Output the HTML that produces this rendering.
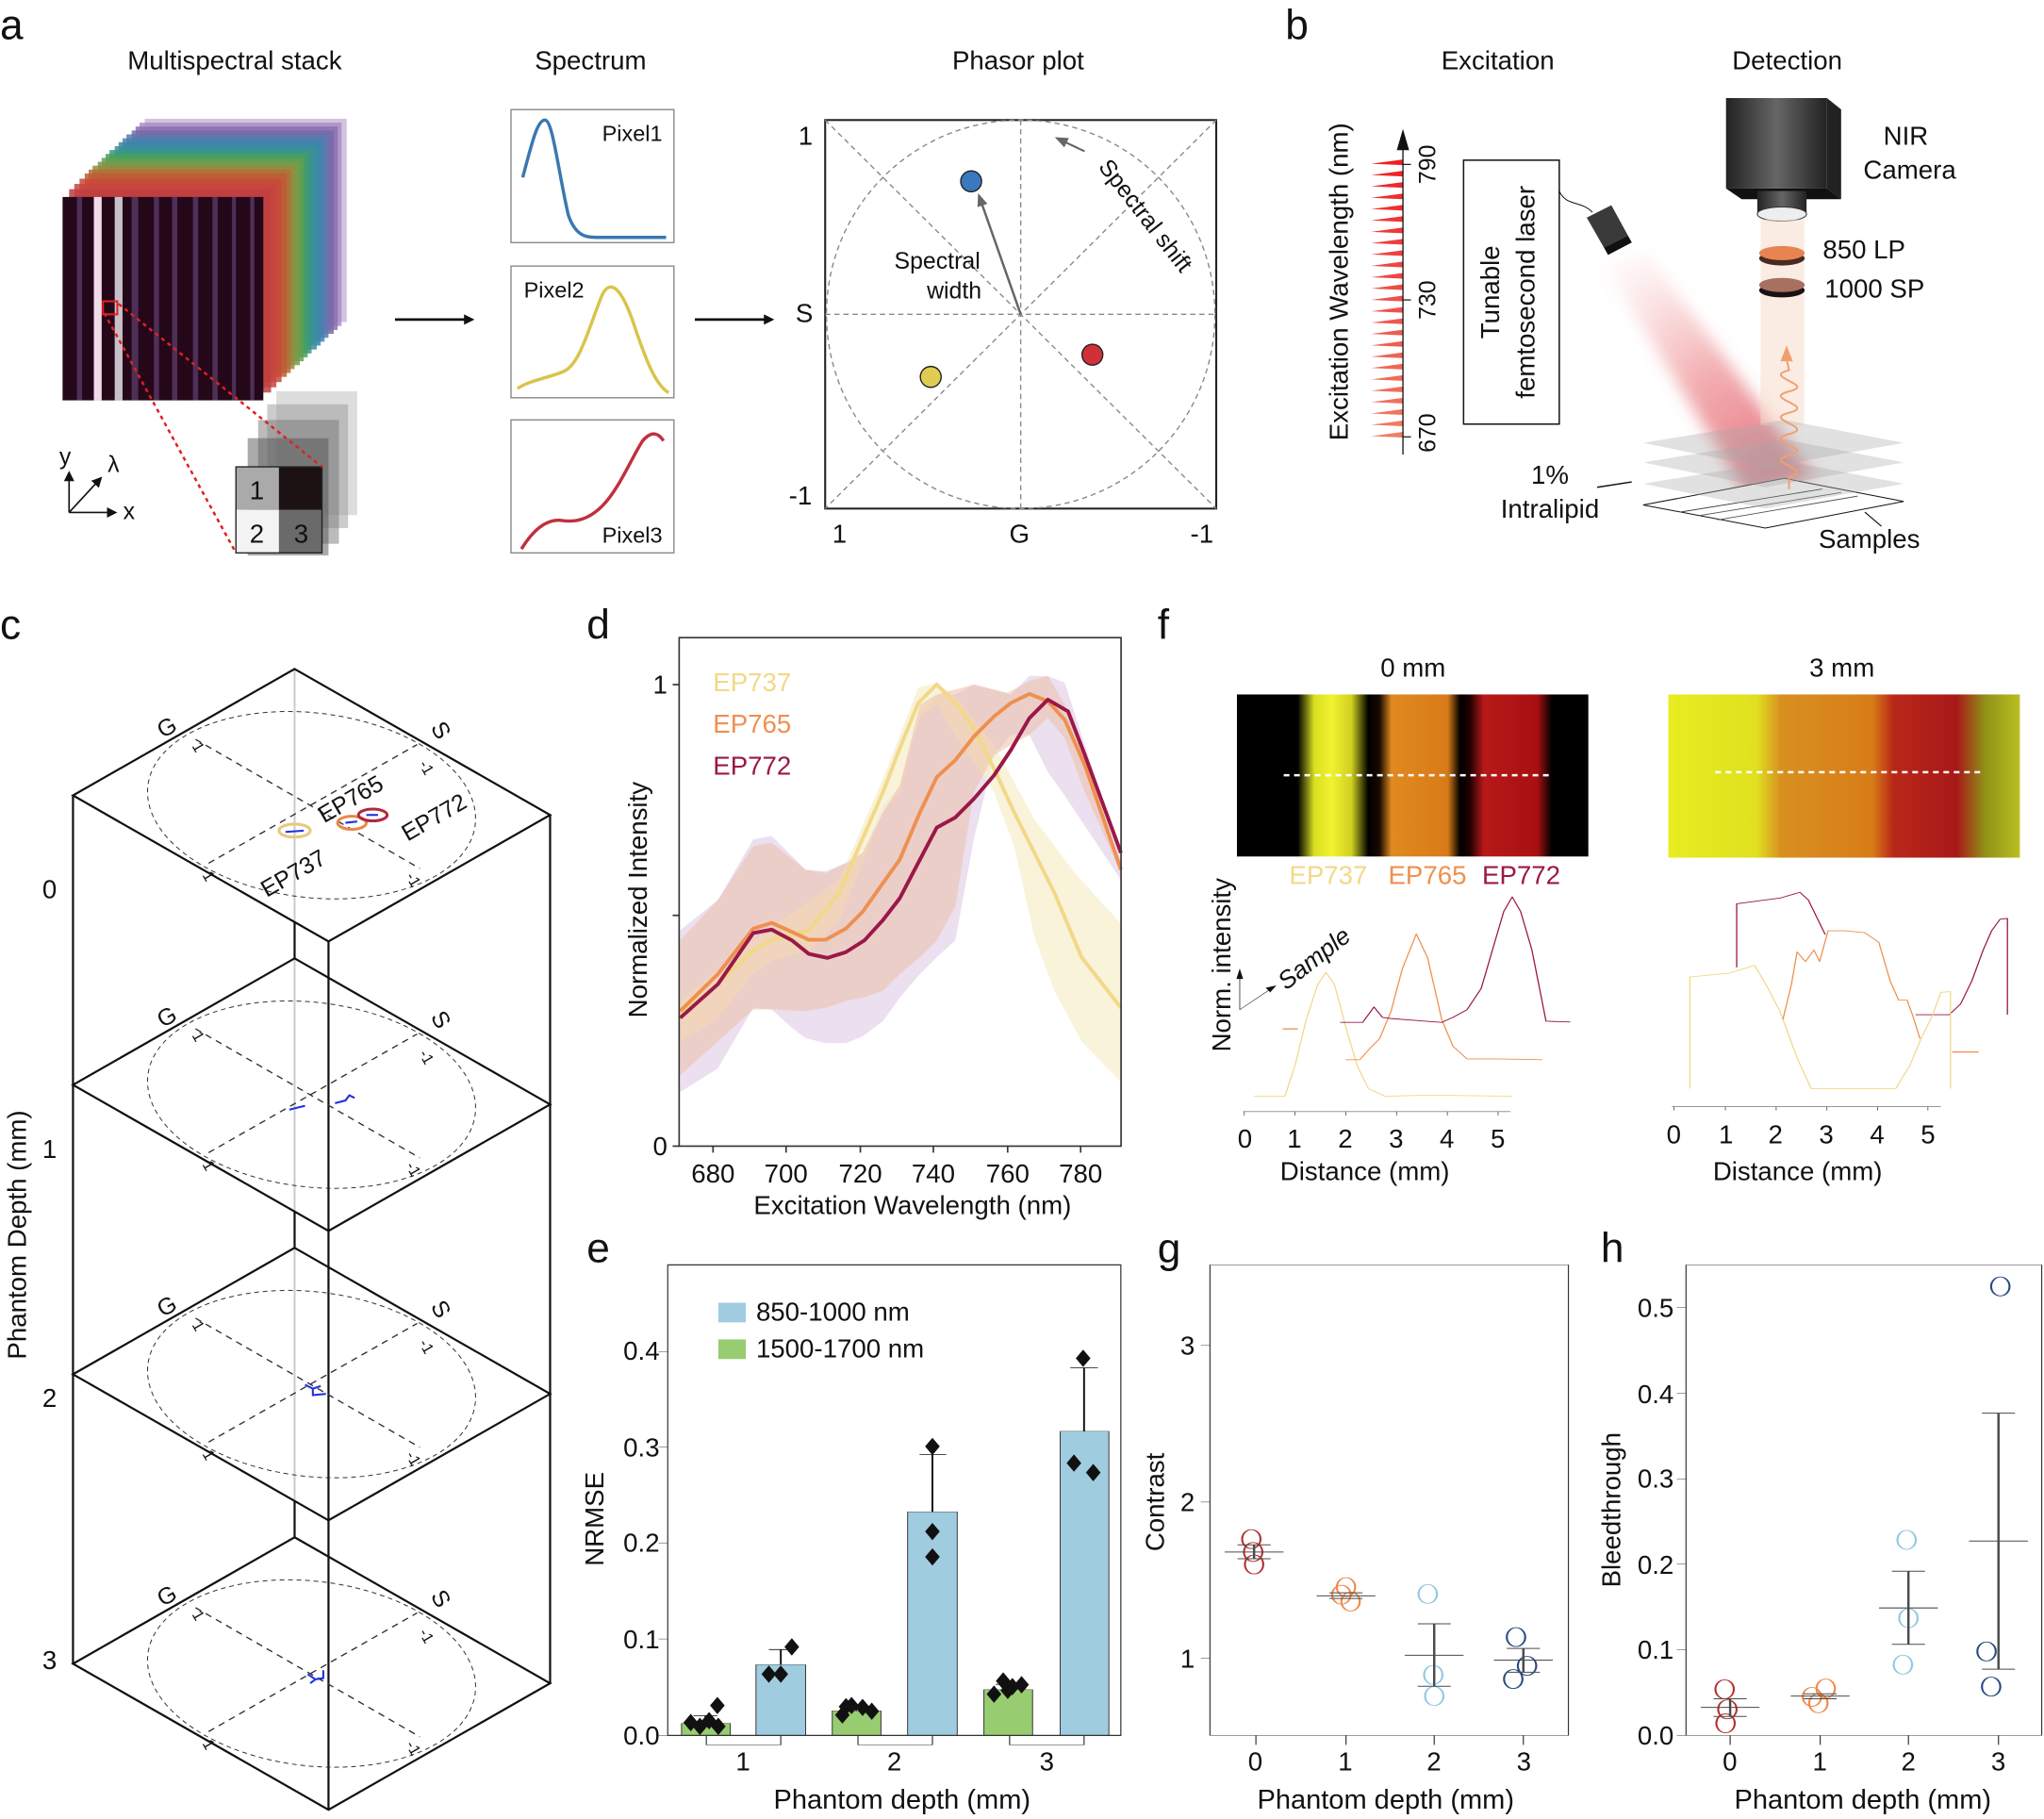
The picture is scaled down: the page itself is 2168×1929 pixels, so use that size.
<!DOCTYPE html>
<html><head><meta charset="utf-8">
<style>
html,body{margin:0;padding:0;background:#fff;}
svg{display:block;}
text{font-family:"Liberation Sans",Arial,sans-serif;fill:#111;}
.n{font-family:"Liberation Sans Narrow","Liberation Sans",sans-serif;}
.ns{vector-effect:non-scaling-stroke;}
</style></head>
<body>
<svg width="2168" height="1929" viewBox="0 0 1568 1395" xmlns="http://www.w3.org/2000/svg">
<defs>
<marker id="ah" markerWidth="8" markerHeight="8" refX="6" refY="4" orient="auto" markerUnits="userSpaceOnUse"><path d="M0,0 L8,4 L0,8 z" fill="#111"/></marker>
<marker id="ahg" markerWidth="10" markerHeight="8" refX="8" refY="4" orient="auto" markerUnits="userSpaceOnUse"><path d="M0,0 L10,4 L0,8 z" fill="#666"/></marker>
<filter id="blur" x="-50%" y="-50%" width="200%" height="200%"><feGaussianBlur stdDeviation="18"/></filter>
<linearGradient id="img1" x1="0" x2="1" y1="0" y2="0">
<stop offset="0" stop-color="#000"/><stop offset="0.173" stop-color="#000"/><stop offset="0.22" stop-color="#d8e020"/><stop offset="0.27" stop-color="#f2f230"/><stop offset="0.326" stop-color="#d0d020"/><stop offset="0.374" stop-color="#000"/>
<stop offset="0.406" stop-color="#1a0a00"/><stop offset="0.44" stop-color="#e08a20"/><stop offset="0.6" stop-color="#d87a18"/><stop offset="0.635" stop-color="#000"/>
<stop offset="0.663" stop-color="#200000"/><stop offset="0.703" stop-color="#b81818"/><stop offset="0.855" stop-color="#a81010"/><stop offset="0.896" stop-color="#000"/><stop offset="1" stop-color="#000"/>
</linearGradient>
<linearGradient id="img2" x1="0" x2="1" y1="0" y2="0">
<stop offset="0" stop-color="#e8ec20"/><stop offset="0.25" stop-color="#e0e020"/><stop offset="0.32" stop-color="#d89020"/><stop offset="0.58" stop-color="#d87c18"/><stop offset="0.64" stop-color="#b82818"/><stop offset="0.82" stop-color="#a81818"/><stop offset="0.9" stop-color="#909018"/><stop offset="1" stop-color="#b8c020"/>
</linearGradient>
<linearGradient id="beam" x1="0" y1="0" x2="0.6" y2="1">
<stop offset="0" stop-color="#f4a0a0" stop-opacity="0"/><stop offset="0.6" stop-color="#e86a70" stop-opacity="0.55"/><stop offset="1" stop-color="#e05060" stop-opacity="0.75"/>
</linearGradient>
<linearGradient id="cam" x1="0" x2="1"><stop offset="0" stop-color="#222"/><stop offset="0.5" stop-color="#666"/><stop offset="1" stop-color="#222"/></linearGradient>
</defs>

<!-- ============ PANEL A ============ -->
<text x="0" y="30" font-size="32">a</text>
<text x="180" y="53" font-size="20" text-anchor="middle">Multispectral stack</text>
<text x="453" y="53" font-size="20" text-anchor="middle">Spectrum</text>
<text x="781" y="53" font-size="20" text-anchor="middle">Phasor plot</text>
<g>
<rect x="111" y="91" width="155" height="156" fill="#c8b4d8" opacity="0.8"/>
<rect x="107" y="94" width="155" height="156" fill="#a48cc0" opacity="0.8"/>
<rect x="104" y="97" width="155" height="156" fill="#8a70b0" opacity="0.85"/>
<rect x="101" y="100" width="155" height="156" fill="#7a68a8" opacity="0.85"/>
<rect x="97" y="103" width="155" height="156" fill="#5a7ab0" opacity="0.85"/>
<rect x="94" y="106" width="155" height="156" fill="#4a80b0" opacity="0.85"/>
<rect x="91" y="109" width="155" height="156" fill="#3a88a8" opacity="0.85"/>
<rect x="88" y="112" width="155" height="156" fill="#3a9098" opacity="0.85"/>
<rect x="84" y="115" width="155" height="156" fill="#3a9880" opacity="0.85"/>
<rect x="81" y="118" width="155" height="156" fill="#44a060" opacity="0.85"/>
<rect x="78" y="121" width="155" height="156" fill="#60a050" opacity="0.85"/>
<rect x="75" y="124" width="155" height="156" fill="#7a9a48" opacity="0.85"/>
<rect x="71" y="127" width="155" height="156" fill="#9a8840" opacity="0.85"/>
<rect x="68" y="130" width="155" height="156" fill="#b07038" opacity="0.85"/>
<rect x="65" y="133" width="155" height="156" fill="#c05a34" opacity="0.85"/>
<rect x="61" y="137" width="155" height="156" fill="#c84a38" opacity="0.85"/>
<rect x="57" y="141" width="155" height="156" fill="#c84440" opacity="0.85"/>
<rect x="53" y="145" width="155" height="156" fill="#c04040" opacity="0.85"/>
</g>
<rect x="48" y="151" width="154" height="156" fill="#24081a"/>
<g fill="#6a4a80" opacity="0.6">
<rect x="59" y="151" width="4" height="156"/><rect x="101" y="151" width="5" height="156"/><rect x="118" y="151" width="4" height="156"/><rect x="132" y="151" width="4" height="156"/><rect x="148" y="151" width="4" height="156"/><rect x="163" y="151" width="4" height="156"/><rect x="178" y="151" width="3" height="156"/><rect x="192" y="151" width="3" height="156"/>
</g>
<rect x="72" y="151" width="6" height="156" fill="#f0dce8"/>
<rect x="88" y="151" width="6" height="156" fill="#c8c0c8"/>
<rect x="79" y="231" width="11" height="10" fill="none" stroke="#e02020" stroke-width="1.5"/>
<g>
<rect x="212" y="300" width="62" height="95" fill="#bbb" opacity="0.5"/>
<rect x="205" y="310" width="62" height="95" fill="#999" opacity="0.5"/>
<rect x="198" y="322" width="62" height="95" fill="#777" opacity="0.5"/>
<rect x="190" y="336" width="62" height="90" fill="#555" opacity="0.5"/>
</g>
<rect x="181" y="358" width="33" height="33" fill="#aaa"/>
<rect x="214" y="358" width="33" height="33" fill="#1c1214"/>
<rect x="181" y="391" width="33" height="33" fill="#f3f3f3"/>
<rect x="214" y="391" width="33" height="33" fill="#6a6a6a"/>
<rect x="181" y="358" width="66" height="66" fill="none" stroke="#222" stroke-width="1"/>
<text x="197" y="383" font-size="20" text-anchor="middle">1</text>
<text x="197" y="416" font-size="20" text-anchor="middle">2</text>
<text x="231" y="416" font-size="20" text-anchor="middle">3</text>
<line x1="80" y1="240" x2="181" y2="424" stroke="#e02020" stroke-width="1.8" stroke-dasharray="3 3"/>
<line x1="91" y1="233" x2="247" y2="358" stroke="#e02020" stroke-width="1.8" stroke-dasharray="3 3"/>
<line x1="53" y1="393" x2="53" y2="363" stroke="#111" stroke-width="1.2" marker-end="url(#ah)"/>
<line x1="53" y1="393" x2="88" y2="393" stroke="#111" stroke-width="1.2" marker-end="url(#ah)"/>
<line x1="53" y1="393" x2="77" y2="367" stroke="#111" stroke-width="1.2" marker-end="url(#ah)"/>
<text x="50" y="356" font-size="18" text-anchor="middle">y</text>
<text x="87" y="362" font-size="18" text-anchor="middle">λ</text>
<text x="99" y="398" font-size="18" text-anchor="middle">x</text>
<line x1="303" y1="245" x2="362" y2="245" stroke="#111" stroke-width="2" marker-end="url(#ah)"/>
<line x1="533" y1="245" x2="592" y2="245" stroke="#111" stroke-width="2" marker-end="url(#ah)"/>
<rect x="392" y="84" width="125" height="102" fill="none" stroke="#888" stroke-width="1"/>
<rect x="392" y="204" width="125" height="101" fill="none" stroke="#888" stroke-width="1"/>
<rect x="392" y="322" width="125" height="102" fill="none" stroke="#888" stroke-width="1"/>
<text x="485" y="108" font-size="17" text-anchor="middle">Pixel1</text>
<text x="425" y="228" font-size="17" text-anchor="middle">Pixel2</text>
<text x="485" y="416" font-size="17" text-anchor="middle">Pixel3</text>
<path d="M401,136 C408,110 412,92 418,92 C424,92 428,130 436,165 C442,182 450,182 460,182 L511,182" fill="none" stroke="#3a78b0" stroke-width="2.5"/>
<path d="M397,298 C405,292 420,290 432,285 C445,280 452,250 462,226 C468,214 476,220 485,245 C495,275 503,296 513,301" fill="none" stroke="#d8c44a" stroke-width="2.5"/>
<path d="M400,421 C408,408 418,398 430,399 C442,401 452,398 462,388 C475,375 485,350 493,338 C500,330 505,332 509,338" fill="none" stroke="#c0303e" stroke-width="2.5"/>
<rect x="633" y="92" width="300" height="298" fill="none" stroke="#222" stroke-width="1.5"/>
<circle cx="783" cy="241" r="149" fill="none" stroke="#888" stroke-width="1" stroke-dasharray="4 3"/>
<g stroke="#888" stroke-width="1" stroke-dasharray="4 3">
<line x1="633" y1="92" x2="933" y2="390"/><line x1="933" y1="92" x2="633" y2="390"/>
<line x1="783" y1="92" x2="783" y2="390"/><line x1="633" y1="241" x2="933" y2="241"/>
</g>
<text x="618" y="111" font-size="20" text-anchor="middle">1</text>
<text x="617" y="247" font-size="20" text-anchor="middle">S</text>
<text x="614" y="387" font-size="20" text-anchor="middle">-1</text>
<text x="644" y="416" font-size="20" text-anchor="middle">1</text>
<text x="782" y="416" font-size="20" text-anchor="middle">G</text>
<text x="922" y="416" font-size="20" text-anchor="middle">-1</text>
<line x1="783" y1="241" x2="751" y2="150" stroke="#666" stroke-width="1.8" marker-end="url(#ahg)"/>
<circle cx="745" cy="139" r="8" fill="#3a78c0" stroke="#222" stroke-width="1"/>
<circle cx="714" cy="289" r="8" fill="#e0cc50" stroke="#222" stroke-width="1"/>
<circle cx="838" cy="272" r="8" fill="#d03038" stroke="#222" stroke-width="1"/>
<text x="719" y="206" font-size="18" text-anchor="middle">Spectral</text>
<text x="732" y="229" font-size="18" text-anchor="middle">width</text>
<text x="0" y="0" font-size="18" transform="translate(842,128) rotate(52)">Spectral shift</text>
<line x1="832" y1="116" x2="811" y2="106" stroke="#666" stroke-width="1.5" marker-end="url(#ahg)"/>

<!-- ============ PANEL B ============ -->
<text x="986" y="30" font-size="32">b</text>
<text x="1149" y="53" font-size="20" text-anchor="middle">Excitation</text>
<text x="1371" y="53" font-size="20" text-anchor="middle">Detection</text>
<g transform="matrix(0.3634 0 0 0.2721 998.1 14.46)">
 <polygon points="640,690 730,660 1080,1290 940,1340" fill="url(#beam)" filter="url(#blur)"/>
 <g>
 <polygon points="148,408 215,396 215,412" fill="#f02020"/>
 <polygon points="148,440 215,428 215,444" fill="#f02424"/>
 <polygon points="148,472 215,460 215,476" fill="#f02828"/>
 <polygon points="148,504 215,492 215,508" fill="#f02c2c"/>
 <polygon points="148,536 215,524 215,540" fill="#f03030"/>
 <polygon points="148,568 215,556 215,572" fill="#f03434"/>
 <polygon points="148,600 215,588 215,604" fill="#f03838"/>
 <polygon points="148,632 215,620 215,636" fill="#f03c3c"/>
 <polygon points="148,664 215,652 215,668" fill="#f04040"/>
 <polygon points="148,696 215,684 215,700" fill="#f04444"/>
 <polygon points="148,728 215,716 215,732" fill="#f04646"/>
 <polygon points="148,760 215,748 215,764" fill="#f04a48"/>
 <polygon points="148,792 215,780 215,796" fill="#f04e4a"/>
 <polygon points="148,824 215,812 215,828" fill="#f0524c"/>
 <polygon points="148,856 215,844 215,860" fill="#f0564e"/>
 <polygon points="148,888 215,876 215,892" fill="#f05a50"/>
 <polygon points="148,920 215,908 215,924" fill="#f05e52"/>
 <polygon points="148,952 215,940 215,956" fill="#f06254"/>
 <polygon points="148,984 215,972 215,988" fill="#f06656"/>
 <polygon points="148,1016 215,1004 215,1020" fill="#f06a58"/>
 <polygon points="148,1048 215,1036 215,1052" fill="#f06e5a"/>
 <polygon points="148,1080 215,1068 215,1084" fill="#f0725c"/>
 <polygon points="148,1112 215,1100 215,1116" fill="#f0765e"/>
 <polygon points="148,1144 215,1132 215,1148" fill="#f07a60"/>
 <polygon points="148,1176 215,1164 215,1180" fill="#f07e62"/>
 </g>
 <line x1="215" y1="1228" x2="215" y2="360" class="ns" stroke="#111" stroke-width="1.3"/>
 <polygon points="215,310 202,370 228,370" fill="#111"/>
 <line x1="215" y1="410" x2="232" y2="410" class="ns" stroke="#111" stroke-width="1.2"/>
 <line x1="215" y1="792" x2="232" y2="792" class="ns" stroke="#111" stroke-width="1.2"/>
 <line x1="215" y1="1178" x2="232" y2="1178" class="ns" stroke="#111" stroke-width="1.2"/>
 <rect x="343" y="398" width="202" height="744" fill="none" class="ns" stroke="#111" stroke-width="1.5"/>
 <path d="M545,485 C560,530 590,510 615,545" fill="none" class="ns" stroke="#111" stroke-width="1"/>
 <polygon points="603,560 655,525 698,630 648,665" fill="#3a3a3a"/>
 <polygon points="640,645 690,612 698,630 648,665" fill="#111"/>
 <polygon points="1110,223 1140,255 1140,508 1110,478" fill="#222"/>
 <polygon points="897,478 1110,478 1140,508 930,508" fill="#111"/>
 <rect x="897" y="223" width="213" height="255" fill="url(#cam)"/>
 <rect x="963" y="485" width="104" height="65" fill="url(#cam)"/>
 <ellipse cx="1015" cy="550" rx="52" ry="20" fill="#eee" class="ns" stroke="#333" stroke-width="1"/>
 <rect x="970" y="565" width="92" height="580" fill="#f6dccc" opacity="0.55"/>
 <ellipse cx="1015" cy="675" rx="48" ry="20" fill="#4a2a20"/>
 <ellipse cx="1015" cy="660" rx="48" ry="20" fill="#e88452"/>
 <ellipse cx="1015" cy="765" rx="48" ry="20" fill="#1a1212"/>
 <ellipse cx="1015" cy="750" rx="48" ry="20" fill="#a87060"/>
 <polygon points="722,1370 1020,1295 1272,1360 980,1435" fill="#fff" class="ns" stroke="#111" stroke-width="1"/>
 <g class="ns" stroke-width="2.5"><line x1="800" y1="1390" x2="1100" y2="1325" stroke="#333"/><line x1="840" y1="1400" x2="1140" y2="1335" stroke="#555"/><line x1="880" y1="1412" x2="1175" y2="1345" stroke="#555"/></g>
 <polygon points="722,1310 1020,1245 1272,1310 980,1380" fill="#aaa" opacity="0.35"/>
 <polygon points="722,1250 1020,1185 1272,1250 980,1320" fill="#aaa" opacity="0.35"/>
 <polygon points="722,1195 1020,1130 1272,1195 980,1265" fill="#aaa" opacity="0.35"/>
 <path d="M1030,1325 L1030,1290 C1090,1270 970,1250 1030,1230 C1090,1210 970,1190 1030,1170 C1090,1150 970,1130 1030,1110 C1090,1090 970,1070 1030,1050 C1090,1030 970,1010 1030,990 L1025,960" fill="none" class="ns" stroke="#f0a070" stroke-width="2"/>
 <polygon points="1025,920 1012,965 1038,965" fill="#f0a070"/>
 <line x1="625" y1="1320" x2="698" y2="1305" class="ns" stroke="#111" stroke-width="1.5"/>
 <line x1="1190" y1="1390" x2="1225" y2="1430" class="ns" stroke="#111" stroke-width="1.2"/>
</g>
<text x="0" y="0" font-size="20" text-anchor="middle" transform="translate(1034,216) rotate(-90)">Excitation Wavelength (nm)</text>
<text x="0" y="0" font-size="18" text-anchor="middle" transform="translate(1101,126) rotate(-90)">790</text>
<text x="0" y="0" font-size="18" text-anchor="middle" transform="translate(1101,230) rotate(-90)">730</text>
<text x="0" y="0" font-size="18" text-anchor="middle" transform="translate(1101,332) rotate(-90)">670</text>
<text x="0" y="0" font-size="20" text-anchor="middle" transform="translate(1150,224) rotate(-90)">Tunable</text>
<text x="0" y="0" font-size="20" text-anchor="middle" transform="translate(1177,224) rotate(-90)">femtosecond laser</text>
<text x="1462" y="111" font-size="20" text-anchor="middle">NIR</text>
<text x="1465" y="137" font-size="20" text-anchor="middle">Camera</text>
<text x="1430" y="198" font-size="20" text-anchor="middle">850 LP</text>
<text x="1438" y="228" font-size="20" text-anchor="middle">1000 SP</text>
<text x="1189" y="371" font-size="20" text-anchor="middle">1%</text>
<text x="1189" y="397" font-size="20" text-anchor="middle">Intralipid</text>
<text x="1434" y="420" font-size="20" text-anchor="middle">Samples</text>

<!-- ============ PANEL C ============ -->
<text x="0" y="490" font-size="32">c</text>
<defs>
<g id="slice">
 <polygon points="226,513 422,625 252,722 56,610" fill="none" stroke="#111" stroke-width="1.6"/>
 <circle cx="0" cy="0" r="0.97" transform="matrix(85 -48.5 98 56 239 617.5)" fill="none" class="ns" stroke="#333" stroke-width="1" stroke-dasharray="5 4"/>
 <line x1="150" y1="567" x2="322" y2="666" stroke="#333" stroke-width="1" stroke-dasharray="5 4"/>
 <line x1="160" y1="662" x2="320" y2="571" stroke="#333" stroke-width="1" stroke-dasharray="5 4"/>
</g>
</defs>
<line x1="226" y1="513" x2="226" y2="1179" stroke="#ccc" stroke-width="1.5"/>
<g stroke="#111" stroke-width="1.6">
<line x1="56" y1="610" x2="56" y2="1276"/><line x1="252" y1="722" x2="252" y2="1388"/><line x1="422" y1="625" x2="422" y2="1291"/>
<line x1="226" y1="707" x2="226" y2="735"/><line x1="226" y1="929" x2="226" y2="957"/><line x1="226" y1="1151" x2="226" y2="1179"/>
</g>
<use href="#slice"/>
<use href="#slice" transform="translate(0,222)"/>
<use href="#slice" transform="translate(0,444)"/>
<use href="#slice" transform="translate(0,666)"/>
<g font-size="18">
<text transform="translate(131,563) rotate(-30)" text-anchor="middle">G</text>
<text transform="translate(333,563) rotate(60)" text-anchor="middle">S</text>
<text transform="translate(131,785) rotate(-30)" text-anchor="middle">G</text>
<text transform="translate(333,785) rotate(60)" text-anchor="middle">S</text>
<text transform="translate(131,1007) rotate(-30)" text-anchor="middle">G</text>
<text transform="translate(333,1007) rotate(60)" text-anchor="middle">S</text>
<text transform="translate(131,1229) rotate(-30)" text-anchor="middle">G</text>
<text transform="translate(333,1229) rotate(60)" text-anchor="middle">S</text>
</g>
<g font-size="12">
<text transform="translate(147,572) rotate(60)">1</text><text transform="translate(155,671) rotate(60)">1</text><text transform="translate(321,586) rotate(60)">-1</text><text transform="translate(311,672) rotate(60)">-1</text>
<text transform="translate(147,794) rotate(60)">1</text><text transform="translate(155,893) rotate(60)">1</text><text transform="translate(321,808) rotate(60)">-1</text><text transform="translate(311,894) rotate(60)">-1</text>
<text transform="translate(147,1016) rotate(60)">1</text><text transform="translate(155,1115) rotate(60)">1</text><text transform="translate(321,1030) rotate(60)">-1</text><text transform="translate(311,1116) rotate(60)">-1</text>
<text transform="translate(147,1238) rotate(60)">1</text><text transform="translate(155,1337) rotate(60)">1</text><text transform="translate(321,1252) rotate(60)">-1</text><text transform="translate(311,1338) rotate(60)">-1</text>
</g>
<g font-size="18">
<text transform="translate(272,618) rotate(-30)" text-anchor="middle">EP765</text>
<text transform="translate(336,632) rotate(-30)" text-anchor="middle">EP772</text>
<text transform="translate(228,675) rotate(-30)" text-anchor="middle">EP737</text>
</g>
<ellipse cx="226" cy="637" rx="12" ry="5" fill="none" stroke="#e8c880" stroke-width="2.2"/>
<ellipse cx="270" cy="631" rx="11" ry="5" fill="none" stroke="#e88848" stroke-width="2.2"/>
<ellipse cx="286" cy="625" rx="11" ry="4.5" fill="none" stroke="#b02840" stroke-width="2.2"/>
<g stroke="#2030e0" stroke-width="1.5" fill="none">
<path d="M219,638 l14,-1"/><path d="M265,631 l9,-1"/><path d="M281,625 l9,0"/>
<path d="M222,851 l12,-3"/><path d="M257,846 l8,-2 l3,-4 l4,2"/>
<path d="M234,1062 l6,3 l6,-2 m-6,2 l0,5 l10,-1"/>
<path d="M236,1284 l6,4 l6,-1 l0,-6 m-6,7 l-4,3"/>
</g>
<g font-size="20">
<text x="38" y="689" text-anchor="middle">0</text><text x="38" y="888" text-anchor="middle">1</text><text x="38" y="1079" text-anchor="middle">2</text><text x="38" y="1280" text-anchor="middle">3</text>
</g>
<text font-size="20" text-anchor="middle" transform="translate(20,947) rotate(-90)">Phantom Depth (mm)</text>

<!-- ============ PANEL D ============ -->
<text x="450" y="490" font-size="32">d</text>
<g transform="matrix(0.2583 0 0 0.2583 462.9 462.9)">
 <polygon fill="#e6d4ea" opacity="0.75" points="228,970 340,880 445,700 500,690 600,790 660,795 720,770 770,740 830,600 880,540 940,330 990,270 1045,270 1100,240 1210,270 1265,215 1320,215 1370,235 1430,420 1537,760 1537,820 1430,660 1370,570 1320,500 1265,390 1210,390 1160,450 1100,700 1045,1000 990,1050 940,1100 880,1170 830,1240 770,1285 720,1305 660,1305 600,1290 560,1260 500,1205 445,1200 340,1380 228,1450"/>
 <polygon fill="#f6f0d0" opacity="0.8" points="228,1180 445,1000 700,820 830,520 935,250 990,235 1050,280 1160,420 1280,640 1400,800 1537,950 1537,1420 1420,1300 1340,1150 1280,990 1220,720 1160,560 1100,470 1050,400 990,300 935,340 880,560 830,620 700,940 610,1030 500,1060 445,1100 330,1240 228,1300"/>
 <polygon fill="#ecc0a8" opacity="0.55" points="228,1000 340,880 445,720 500,710 600,790 660,800 720,770 770,740 830,620 880,540 940,300 990,270 1100,240 1200,265 1265,230 1320,215 1370,300 1430,450 1537,780 1537,800 1430,560 1370,400 1320,340 1265,390 1210,420 1160,450 1100,560 1045,900 990,1000 940,1050 880,1100 830,1150 770,1170 720,1180 660,1200 600,1210 500,1205 445,1205 340,1300 228,1400"/>
 <polyline fill="none" stroke="#f2d888" stroke-width="11" stroke-linejoin="round" points="228,1215 330,1140 445,1030 500,998 610,970 700,860 760,720 830,560 880,430 935,295 990,240 1050,300 1100,370 1160,490 1220,620 1280,740 1340,860 1420,1050 1537,1200"/>
 <polyline fill="none" stroke="#ee9050" stroke-width="11" stroke-linejoin="round" points="228,1210 340,1100 445,965 500,948 560,975 610,998 660,998 720,965 770,915 830,830 880,760 940,620 990,515 1045,465 1100,395 1160,335 1210,295 1265,268 1320,290 1370,345 1430,480 1537,790"/>
 <polyline fill="none" stroke="#9a1848" stroke-width="11" stroke-linejoin="round" points="228,1230 340,1130 445,978 500,968 560,1000 610,1040 665,1052 720,1035 775,1000 830,940 880,875 940,760 990,665 1045,635 1100,580 1160,510 1210,435 1265,340 1320,285 1380,320 1430,450 1537,740"/>
</g>
<rect x="521" y="489" width="339" height="390" fill="none" stroke="#333" stroke-width="1.2"/>
<g stroke="#333" stroke-width="1.2">
<line x1="516" y1="525" x2="521" y2="525"/><line x1="516" y1="702" x2="521" y2="702"/><line x1="516" y1="879" x2="521" y2="879"/>
<line x1="547" y1="879" x2="547" y2="884"/><line x1="603" y1="879" x2="603" y2="884"/><line x1="660" y1="879" x2="660" y2="884"/><line x1="716" y1="879" x2="716" y2="884"/><line x1="773" y1="879" x2="773" y2="884"/><line x1="829" y1="879" x2="829" y2="884"/>
</g>
<text x="512" y="532" font-size="20" text-anchor="end">1</text>
<text x="512" y="886" font-size="20" text-anchor="end">0</text>
<g font-size="20" text-anchor="middle">
<text x="547" y="907">680</text><text x="603" y="907">700</text><text x="660" y="907">720</text><text x="716" y="907">740</text><text x="773" y="907">760</text><text x="829" y="907">780</text>
</g>
<text x="700" y="931" font-size="20" text-anchor="middle">Excitation Wavelength (nm)</text>
<text font-size="20" text-anchor="middle" transform="translate(496,690) rotate(-90)">Normalized Intensity</text>
<text x="547" y="530" font-size="20" style="fill:#f2d888">EP737</text>
<text x="547" y="562" font-size="20" style="fill:#ee9050">EP765</text>
<text x="547" y="594" font-size="20" style="fill:#9a1848">EP772</text>

<!-- ============ PANEL E ============ -->
<text x="450" y="968" font-size="32">e</text>
<g transform="matrix(0.705 0 0 0.2901 462.9 940.2)">
 <g class="ns" stroke="#333" stroke-width="1">
 <rect x="85" y="1315" width="53" height="32" fill="#98cc70"/>
 <rect x="166" y="1160" width="54" height="187" fill="#a0cce0"/>
 <rect x="249" y="1282" width="53" height="65" fill="#98cc70"/>
 <rect x="331" y="756" width="54" height="591" fill="#a0cce0"/>
 <rect x="414" y="1226" width="53" height="121" fill="#98cc70"/>
 <rect x="497" y="543" width="53" height="804" fill="#a0cce0"/>
 <rect x="125" y="203" width="30" height="52" fill="#a0cce0" stroke="none"/>
 <rect x="125" y="300" width="30" height="52" fill="#98cc70" stroke="none"/>
 </g>
 <g class="ns" stroke="#111" stroke-width="2">
 <line x1="111" y1="1315" x2="111" y2="1295"/><line x1="98" y1="1295" x2="124" y2="1295"/>
 <line x1="193" y1="1160" x2="193" y2="1120"/><line x1="180" y1="1120" x2="208" y2="1120"/>
 <line x1="275" y1="1282" x2="275" y2="1268"/><line x1="262" y1="1268" x2="288" y2="1268"/>
 <line x1="358" y1="756" x2="358" y2="604"/><line x1="344" y1="604" x2="373" y2="604"/>
 <line x1="440" y1="1226" x2="440" y2="1212"/><line x1="427" y1="1212" x2="453" y2="1212"/>
 <line x1="523" y1="543" x2="523" y2="375"/><line x1="508" y1="375" x2="538" y2="375"/>
 </g>
 <g fill="#111">
 <path d="M180,1162 l8,23 l-8,23 l-8,-23z"/><path d="M193,1162 l8,23 l-8,23 l-8,-23z"/><path d="M205,1090 l8,23 l-8,23 l-8,-23z"/>
 <path d="M358,560 l8,23 l-8,23 l-8,-23z"/><path d="M358,785 l8,23 l-8,23 l-8,-23z"/><path d="M358,852 l8,23 l-8,23 l-8,-23z"/>
 <path d="M522,327 l8,23 l-8,23 l-8,-23z"/><path d="M512,604 l8,23 l-8,23 l-8,-23z"/><path d="M533,629 l8,23 l-8,23 l-8,-23z"/>
 <path d="M95,1290 l8,23 l-8,23 l-8,-23z"/><path d="M105,1300 l8,23 l-8,23 l-8,-23z"/><path d="M115,1285 l8,23 l-8,23 l-8,-23z"/><path d="M125,1300 l8,23 l-8,23 l-8,-23z"/><path d="M124,1245 l8,23 l-8,23 l-8,-23z"/>
 <path d="M260,1270 l8,23 l-8,23 l-8,-23z"/><path d="M270,1245 l8,23 l-8,23 l-8,-23z"/><path d="M282,1250 l8,23 l-8,23 l-8,-23z"/><path d="M292,1260 l8,23 l-8,23 l-8,-23z"/><path d="M264,1248 l8,23 l-8,23 l-8,-23z"/>
 <path d="M425,1215 l8,23 l-8,23 l-8,-23z"/><path d="M435,1180 l8,23 l-8,23 l-8,-23z"/><path d="M445,1195 l8,23 l-8,23 l-8,-23z"/><path d="M455,1190 l8,23 l-8,23 l-8,-23z"/><path d="M440,1205 l8,23 l-8,23 l-8,-23z"/>
 </g>
 <rect x="70" y="103" width="493" height="1244" fill="none" class="ns" stroke="#333" stroke-width="1.2"/>
 <g class="ns" stroke="#333" stroke-width="1.2" fill="none">
 <polyline points="112,1347 112,1372 193,1372 193,1347"/><polyline points="277,1347 277,1372 358,1372 358,1347"/><polyline points="442,1347 442,1372 523,1372 523,1347"/>
 <line x1="60" y1="1347" x2="70" y2="1347"/><line x1="60" y1="1092" x2="70" y2="1092"/><line x1="60" y1="838" x2="70" y2="838"/><line x1="60" y1="585" x2="70" y2="585"/><line x1="60" y1="332" x2="70" y2="332"/>
 </g>
</g>
<g font-size="20" text-anchor="end" class="n">
<text x="506" y="1338">0.0</text><text x="506" y="1264">0.1</text><text x="506" y="1190">0.2</text><text x="506" y="1117">0.3</text><text x="506" y="1043">0.4</text>
</g>
<g font-size="20" text-anchor="middle" class="n"><text x="570" y="1358">1</text><text x="686" y="1358">2</text><text x="803" y="1358">3</text></g>
<text x="692" y="1387" font-size="21" text-anchor="middle" class="n">Phantom depth (mm)</text>
<text font-size="20" text-anchor="middle" transform="translate(463,1165) rotate(-90)">NRMSE</text>
<text x="580" y="1013" font-size="20" class="n">850-1000 nm</text>
<text x="580" y="1041" font-size="20" class="n">1500-1700 nm</text>

<!-- ============ PANEL F ============ -->
<text x="888" y="490" font-size="32">f</text>
<text x="1084" y="519" font-size="20" text-anchor="middle">0 mm</text>
<text x="1413" y="519" font-size="20" text-anchor="middle">3 mm</text>
<g transform="matrix(0.4327 0 0 0.2952 889.6 462.9)">
 <rect x="137" y="236" width="623" height="421" fill="url(#img1)"/>
 <rect x="902" y="236" width="623" height="424" fill="url(#img2)"/>
 <line x1="220" y1="446" x2="690" y2="446" class="ns" stroke="#fff" stroke-width="2.5" stroke-dasharray="6 5"/>
 <line x1="985" y1="438" x2="1455" y2="438" class="ns" stroke="#fff" stroke-width="2.5" stroke-dasharray="6 5"/>
 <g fill="none" class="ns" stroke-width="2.2" stroke-linejoin="round">
 <polyline stroke="#f2d88a" points="167,1280 222,1280 240,1200 260,1080 280,990 295,958 310,990 330,1100 350,1200 370,1260 400,1280 480,1277 625,1280"/>
 <line x1="218" y1="1105" x2="245" y2="1105" stroke="#ee8a50" stroke-width="3"/>
 <polyline stroke="#ee9050" points="330,1185 355,1185 370,1160 390,1130 410,1060 430,950 455,858 475,920 500,1080 520,1150 545,1183 600,1183 678,1185"/>
 <polyline stroke="#9a1848" points="320,1088 360,1088 380,1048 395,1075 410,1078 500,1088 520,1075 545,1055 570,1000 590,900 610,800 625,762 640,800 660,900 685,1085 728,1087"/>
 <polyline stroke="#9a1848" points="1023,945 1023,780 1100,765 1135,750 1150,770 1170,830 1180,860"/>
 <polyline stroke="#9a1848" points="1340,1068 1400,1068 1420,1040 1440,980 1460,900 1475,850 1490,820 1503,818 1503,1068"/>
 <polyline stroke="#f2d88a" points="940,1260 940,970 1010,960 1055,940 1075,990 1100,1060 1130,1180 1155,1260 1305,1260 1330,1200 1350,1130 1370,1070 1385,1010 1402,1008 1402,1260"/>
 <polyline stroke="#ee9050" points="1105,1080 1120,990 1130,905 1145,930 1160,900 1170,930 1185,850 1215,850 1250,855 1275,880 1295,980 1310,1030 1325,1030 1335,1070 1348,1130"/>
 <line x1="1405" y1="1165" x2="1452" y2="1165" stroke="#ee8a50" stroke-width="3"/>
 </g>
 <g class="ns" stroke="#333" stroke-width="1.2">
 <line x1="148" y1="1320" x2="622" y2="1320"/>
 <line x1="150" y1="1320" x2="150" y2="1330"/><line x1="240" y1="1320" x2="240" y2="1330"/><line x1="330" y1="1320" x2="330" y2="1330"/><line x1="420" y1="1320" x2="420" y2="1330"/><line x1="510" y1="1320" x2="510" y2="1330"/><line x1="600" y1="1320" x2="600" y2="1330"/>
 <line x1="908" y1="1307" x2="1385" y2="1307"/>
 <line x1="912" y1="1307" x2="912" y2="1317"/><line x1="1003" y1="1307" x2="1003" y2="1317"/><line x1="1093" y1="1307" x2="1093" y2="1317"/><line x1="1183" y1="1307" x2="1183" y2="1317"/><line x1="1273" y1="1307" x2="1273" y2="1317"/><line x1="1362" y1="1307" x2="1362" y2="1317"/>
 <line x1="142" y1="1055" x2="142" y2="960" stroke="#111"/><line x1="142" y1="1055" x2="198" y2="1000" stroke="#111"/>
 </g>
 <polygon points="142,948 136,975 148,975" fill="#111"/>
 <polygon points="207,992 188,998 196,1010" fill="#111"/>
</g>
<text x="1019" y="678" font-size="20" text-anchor="middle" style="fill:#f2d88a">EP737</text>
<text x="1095" y="678" font-size="20" text-anchor="middle" style="fill:#ee9050">EP765</text>
<text x="1167" y="678" font-size="20" text-anchor="middle" style="fill:#9a1848">EP772</text>
<g font-size="20" text-anchor="middle">
<text x="955" y="880">0</text><text x="993" y="880">1</text><text x="1032" y="880">2</text><text x="1071" y="880">3</text><text x="1110" y="880">4</text><text x="1149" y="880">5</text>
<text x="1284" y="877">0</text><text x="1324" y="877">1</text><text x="1362" y="877">2</text><text x="1401" y="877">3</text><text x="1440" y="877">4</text><text x="1479" y="877">5</text>
</g>
<text x="1047" y="905" font-size="20" text-anchor="middle">Distance (mm)</text>
<text x="1379" y="905" font-size="20" text-anchor="middle">Distance (mm)</text>
<text font-size="20" text-anchor="middle" transform="translate(944,740) rotate(-90)">Norm. intensity</text>
<text font-size="19" font-style="italic" text-anchor="middle" transform="translate(1012,740) rotate(-38)">Sample</text>

<!-- ============ PANELS G,H ============ -->
<text x="888" y="968" font-size="32">g</text>
<text x="1228" y="968" font-size="32">h</text>
<g transform="matrix(0.705 0 0 0.2901 462.9 940.2)">
 <g fill="none" class="ns" stroke-width="2.2">
 <ellipse cx="705" cy="828" rx="10" ry="25" stroke="#b03030"/><ellipse cx="707" cy="862" rx="10" ry="25" stroke="#b03030"/><ellipse cx="708" cy="895" rx="10" ry="25" stroke="#b03030"/>
 <ellipse cx="808" cy="955" rx="10" ry="25" stroke="#f08848"/><ellipse cx="803" cy="975" rx="10" ry="25" stroke="#f08848"/><ellipse cx="813" cy="993" rx="10" ry="25" stroke="#f08848"/>
 <ellipse cx="897" cy="973" rx="10" ry="25" stroke="#90c8e0"/><ellipse cx="903" cy="1187" rx="10" ry="25" stroke="#90c8e0"/><ellipse cx="904" cy="1243" rx="10" ry="25" stroke="#90c8e0"/>
 <ellipse cx="993" cy="1087" rx="10" ry="25" stroke="#284a80"/><ellipse cx="1005" cy="1163" rx="10" ry="25" stroke="#284a80"/><ellipse cx="990" cy="1198" rx="10" ry="25" stroke="#284a80"/>
 <ellipse cx="1220" cy="1225" rx="10" ry="25" stroke="#b03030"/><ellipse cx="1223" cy="1278" rx="10" ry="25" stroke="#b03030"/><ellipse cx="1221" cy="1315" rx="10" ry="25" stroke="#b03030"/>
 <ellipse cx="1315" cy="1245" rx="10" ry="25" stroke="#f08848"/><ellipse cx="1330" cy="1223" rx="10" ry="25" stroke="#f08848"/><ellipse cx="1322" cy="1262" rx="10" ry="25" stroke="#f08848"/>
 <ellipse cx="1418" cy="830" rx="10" ry="25" stroke="#90c8e0"/><ellipse cx="1420" cy="1037" rx="10" ry="25" stroke="#90c8e0"/><ellipse cx="1414" cy="1160" rx="10" ry="25" stroke="#90c8e0"/>
 <ellipse cx="1520" cy="160" rx="10" ry="25" stroke="#284a80"/><ellipse cx="1505" cy="1125" rx="10" ry="25" stroke="#284a80"/><ellipse cx="1510" cy="1218" rx="10" ry="25" stroke="#284a80"/>
 </g>
 <g class="ns" stroke="#4a4a4a" stroke-width="2.5">
 <line x1="708" y1="843" x2="708" y2="880"/><line x1="676" y1="862" x2="740" y2="862"/><line x1="690" y1="843" x2="726" y2="843"/><line x1="690" y1="880" x2="726" y2="880"/>
 <line x1="776" y1="978" x2="840" y2="978"/><line x1="790" y1="970" x2="826" y2="970"/><line x1="790" y1="985" x2="826" y2="985"/>
 <line x1="904" y1="1052" x2="904" y2="1217"/><line x1="872" y1="1135" x2="936" y2="1135"/><line x1="886" y1="1052" x2="922" y2="1052"/><line x1="886" y1="1217" x2="922" y2="1217"/>
 <line x1="1001" y1="1117" x2="1001" y2="1180"/><line x1="969" y1="1148" x2="1033" y2="1148"/><line x1="983" y1="1117" x2="1019" y2="1117"/><line x1="983" y1="1180" x2="1019" y2="1180"/>
 <line x1="1226" y1="1250" x2="1226" y2="1297"/><line x1="1194" y1="1273" x2="1258" y2="1273"/><line x1="1208" y1="1250" x2="1244" y2="1250"/><line x1="1208" y1="1297" x2="1244" y2="1297"/>
 <line x1="1292" y1="1243" x2="1356" y2="1243"/><line x1="1306" y1="1237" x2="1342" y2="1237"/><line x1="1306" y1="1250" x2="1342" y2="1250"/>
 <line x1="1420" y1="913" x2="1420" y2="1106"/><line x1="1388" y1="1010" x2="1452" y2="1010"/><line x1="1402" y1="913" x2="1438" y2="913"/><line x1="1402" y1="1106" x2="1438" y2="1106"/>
 <line x1="1518" y1="495" x2="1518" y2="1172"/><line x1="1486" y1="833" x2="1550" y2="833"/><line x1="1500" y1="495" x2="1536" y2="495"/><line x1="1500" y1="1172" x2="1536" y2="1172"/>
 </g>
 <g fill="none" class="ns" stroke="#333" stroke-width="1.2">
 <rect x="660" y="103" width="390" height="1244"/>
 <rect x="1178" y="103" width="387" height="1244"/>
 <line x1="650" y1="316" x2="660" y2="316"/><line x1="650" y1="730" x2="660" y2="730"/><line x1="650" y1="1143" x2="660" y2="1143"/>
 <line x1="710" y1="1347" x2="710" y2="1372"/><line x1="808" y1="1347" x2="808" y2="1372"/><line x1="904" y1="1347" x2="904" y2="1372"/><line x1="1001" y1="1347" x2="1001" y2="1372"/>
 <line x1="1168" y1="1347" x2="1178" y2="1347"/><line x1="1168" y1="1121" x2="1178" y2="1121"/><line x1="1168" y1="894" x2="1178" y2="894"/><line x1="1168" y1="669" x2="1178" y2="669"/><line x1="1168" y1="443" x2="1178" y2="443"/><line x1="1168" y1="215" x2="1178" y2="215"/>
 <line x1="1226" y1="1347" x2="1226" y2="1372"/><line x1="1324" y1="1347" x2="1324" y2="1372"/><line x1="1420" y1="1347" x2="1420" y2="1372"/><line x1="1518" y1="1347" x2="1518" y2="1372"/>
 </g>
</g>
<g font-size="20" text-anchor="middle" class="n">
<text x="911" y="1039">3</text><text x="911" y="1159">2</text><text x="911" y="1279">1</text>
<text x="963" y="1358">0</text><text x="1032" y="1358">1</text><text x="1100" y="1358">2</text><text x="1169" y="1358">3</text>
<text x="1327" y="1358">0</text><text x="1396" y="1358">1</text><text x="1464" y="1358">2</text><text x="1533" y="1358">3</text>
</g>
<g font-size="20" text-anchor="end" class="n">
<text x="1284" y="1338">0.0</text><text x="1284" y="1272">0.1</text><text x="1284" y="1207">0.2</text><text x="1284" y="1141">0.3</text><text x="1284" y="1076">0.4</text><text x="1284" y="1010">0.5</text>
</g>
<text x="1063" y="1387" font-size="21" text-anchor="middle" class="n">Phantom depth (mm)</text>
<text x="1429" y="1387" font-size="21" text-anchor="middle" class="n">Phantom depth (mm)</text>
<text font-size="20" text-anchor="middle" transform="translate(893,1152) rotate(-90)">Contrast</text>
<text font-size="20" text-anchor="middle" transform="translate(1243,1158) rotate(-90)">Bleedthrough</text>
</svg>
</body></html>
